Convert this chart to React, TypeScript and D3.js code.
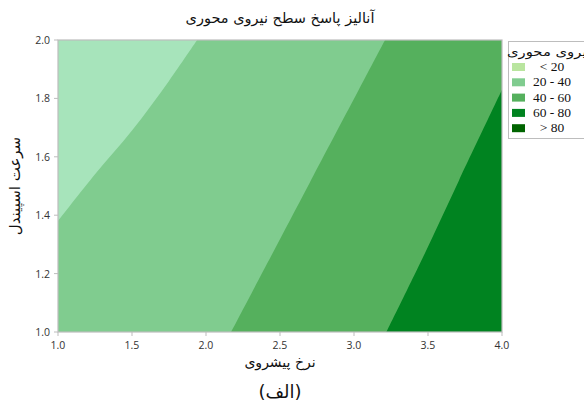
import React from "react";
import * as d3 from "d3";

// Axis ticks
const feedTicks = [1.0, 1.5, 2.0, 2.5, 3.0, 3.5, 4.0];
const spindleTicks = [1.0, 1.2, 1.4, 1.6, 1.8, 2.0];

// Contour boundaries of axial force, as [feed rate, spindle speed] pairs
const bound20: [number, number][] = [
  [1.0, 1.38],
  [1.25, 1.54],
  [1.5, 1.69],
  [1.75, 1.86],
  [1.94, 2.0],
];
const bound40: [number, number][] = [
  [2.17, 1.0],
  [2.44, 1.26],
  [2.7, 1.51],
  [3.21, 2.0],
];
const bound60: [number, number][] = [
  [3.22, 1.0],
  [3.47, 1.26],
  [3.71, 1.52],
  [4.0, 1.83],
];

const legendLabels = ["< 20", "20 - 40", "40 - 60", "60 - 80", "> 80"];
const fillColors = ["#a7e4bb", "#80cc8f", "#55b05d", "#008320", "#006400"];
const swatchColors = ["#b9e59f", "#80cc8f", "#55b05d", "#008320", "#006400"];

const W = 584;
const H = 408;
const margin = { left: 58, right: 82, top: 40, bottom: 76 };

export default function App() {
  const x = d3.scaleLinear().domain([1, 4]).range([margin.left, W - margin.right]);
  const y = d3.scaleLinear().domain([1, 2]).range([H - margin.bottom, margin.top]);
  const [x0, x1] = x.range();
  const [y0, y1] = y.range();

  const line = d3
    .line<[number, number]>()
    .x((d) => x(d[0]))
    .y((d) => y(d[1]))
    .curve(d3.curveCatmullRom);

  // region below 20: top-left corner bounded by bound20
  const regionLow = `M${x(1)},${y(2)}L${line(bound20)!.slice(1)}Z`;
  // region 40+ : right of bound40
  const region40 = `${line(bound40)}L${x(4)},${y(2)}L${x(4)},${y(1)}Z`;
  // region 60+ : right of bound60
  const region60 = `${line(bound60)}L${x(4)},${y(1)}Z`;

  const tickFont = "'Open Sans', 'DejaVu Sans', sans-serif";
  const faFont = "'DejaVu Sans', sans-serif";

  return (
    <svg
      width={W}
      height={H}
      style={{ position: "absolute", left: 0, top: 0, background: "#fff" }}
    >
      <defs>
        <clipPath id="plotClip">
          <rect x={x0} y={y1} width={x1 - x0} height={y0 - y1} />
        </clipPath>
      </defs>

      <text x={(x0 + x1) / 2} y={23} textAnchor="middle" fontFamily={faFont} fontSize={14.5} fill="#111">
        آنالیز پاسخ سطح نیروی محوری
      </text>

      <g clipPath="url(#plotClip)">
        <rect x={x0} y={y1} width={x1 - x0} height={y0 - y1} fill={fillColors[1]} />
        <path d={regionLow} fill={fillColors[0]} />
        <path d={region40} fill={fillColors[2]} />
        <path d={region60} fill={fillColors[3]} />
      </g>

      {/* frame */}
      <rect x={x0} y={y1} width={x1 - x0} height={y0 - y1} fill="none" stroke="#bdbdbd" strokeWidth={1.2} />

      {/* y axis */}
      {spindleTicks.map((t) => (
        <g key={"y" + t}>
          <line x1={x0 - 4} x2={x0} y1={y(t)} y2={y(t)} stroke="#bdbdbd" />
          <text x={x0 - 8} y={y(t) + 4} textAnchor="end" fontFamily={tickFont} fontSize={10.5} fill="#333">
            {t.toFixed(1)}
          </text>
        </g>
      ))}

      {/* x axis */}
      {feedTicks.map((t) => (
        <g key={"x" + t}>
          <line x1={x(t)} x2={x(t)} y1={y0} y2={y0 + 4} stroke="#bdbdbd" />
          <text x={x(t)} y={y0 + 17} textAnchor="middle" fontFamily={tickFont} fontSize={10.5} fill="#333">
            {t.toFixed(1)}
          </text>
        </g>
      ))}

      <text x={(x0 + x1) / 2} y={367} textAnchor="middle" fontFamily={faFont} fontSize={14} fill="#111">
        نرخ پیشروی
      </text>
      <text
        transform={`translate(20,${(y0 + y1) / 2}) rotate(-90)`}
        textAnchor="middle"
        fontFamily={faFont}
        fontSize={15}
        fill="#111"
      >
        سرعت اسپیندل
      </text>
      <text x={(x0 + x1) / 2} y={398} textAnchor="middle" fontFamily={faFont} fontSize={18} fill="#111">
        (الف)
      </text>

      {/* legend */}
      <g>
        <rect x={508.5} y={41.5} width={90} height={97} fill="#fff" stroke="#bdbdbd" />
        <text
          x={507}
          y={55.5}
          fontFamily={faFont}
          fontSize={12}
          fill="#111"
          textLength={84}
          lengthAdjust="spacingAndGlyphs"
        >
          نیروی محوری
        </text>
        {legendLabels.map((lab, i) => (
          <g key={lab}>
            <rect x={512} y={63 + i * 15.3} width={13} height={8} fill={swatchColors[i]} />
            <text
              x={552}
              y={71 + i * 15.3}
              textAnchor="middle"
              fontFamily="'Liberation Serif', 'DejaVu Serif', serif"
              fontSize={13.5}
              fill="#111"
            >
              {lab}
            </text>
          </g>
        ))}
      </g>
    </svg>
  );
}
